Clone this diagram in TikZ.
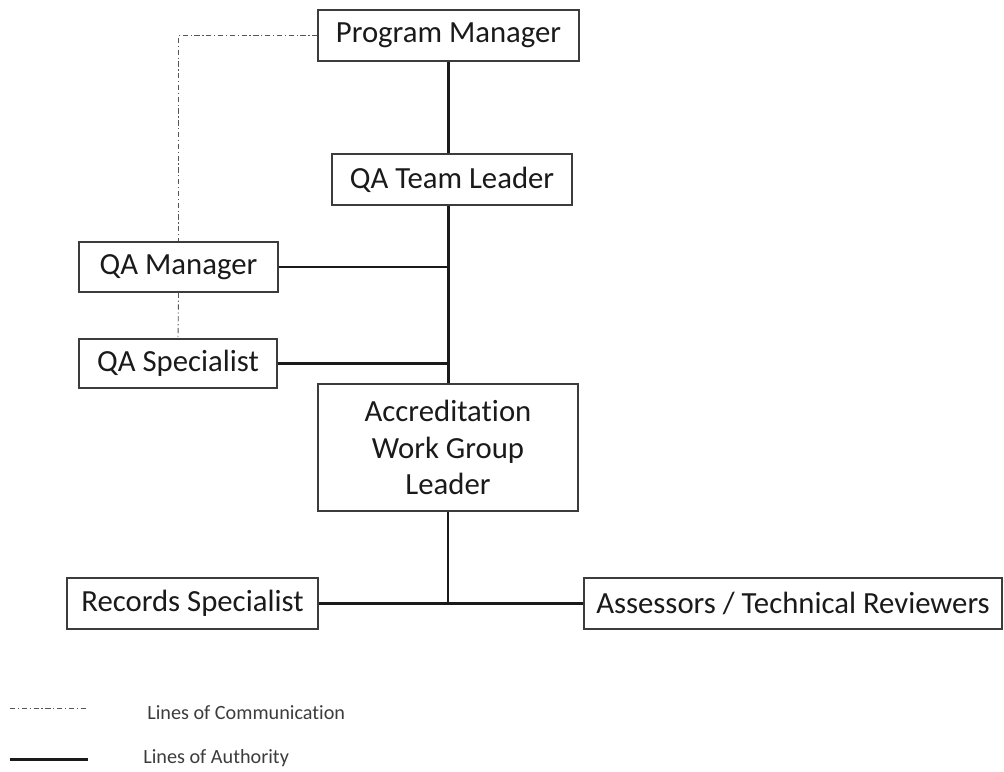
\documentclass[tikz,border=0pt]{standalone}
\usepackage{fontspec}
\setmainfont{Carlito}[Ligatures=NoCommon]
\usepackage{tikz}
\usetikzlibrary{calc,positioning}
\definecolor{ink}{HTML}{1A1A1A}
\definecolor{frame}{HTML}{3C3C3C}
\definecolor{liaisongray}{HTML}{555555}

\tikzset{
  role/.style={draw=frame,line width=0.7pt,text=ink,inner sep=0pt,align=center,font=\fontsize{17.5}{21}\selectfont},
  authority/.style={ink,line width=1.7pt},
  liaison/.style={liaisongray,line width=0.5pt,dash pattern=on 3pt off 1.5pt on 0.7pt off 1.5pt},
  legendtext/.style={text=ink!85,inner sep=0pt,anchor=west,font=\fontsize{11.5}{14}\selectfont}
}

\begin{document}
\begin{tikzpicture}[x=0.02cm,y=-0.02cm]
\useasboundingbox (0,0) rectangle (1004,771);
% boxes
\node[role,minimum width=5.22cm,minimum height=1.02cm] (pm) at (448.5,35.5) {Program Manager};
\node[role,minimum width=4.80cm,minimum height=1.02cm] (tl) at (452,179.5) {QA Team Leader};
\node[role,minimum width=3.98cm,minimum height=1.00cm] (qam) at (178.5,267) {QA Manager};
\node[role,minimum width=3.96cm,minimum height=0.98cm] (qas) at (178,363.5) {QA Specialist};
\node[role,minimum width=5.20cm,minimum height=2.54cm] (awg) at (448,447.5) {Accreditation\\Work Group\\Leader};
\node[role,minimum width=5.02cm,minimum height=1.02cm] (rs) at (192.5,603.5) {Records Specialist};
\node[role,minimum width=8.36cm,minimum height=1.02cm] (atr) at (793,603.5) {Assessors / Technical Reviewers};

% lines of authority
\draw[authority] (pm.south) -- (pm.south |- tl.north);
\draw[authority] (tl.south -| pm.south) -- (awg.north -| pm.south);
\draw[authority] (qam.east) -- (qam.east -| pm.south);
\draw[authority] (qas.east) -- (qas.east -| pm.south);
\coordinate (fork) at (awg.south |- rs.east);
\draw[authority] (awg.south) -- (fork);
\draw[authority] (rs.east) -- (atr.west);

% lines of communication
\draw[liaison] (pm.west) -| (qam.north);
\draw[liaison] (qam.south) -- (qas.north);

% legend
\coordinate (c0) at (10,708); \coordinate (c1) at (88,708);
\draw[liaison] (c0) -- (c1);
\node[legendtext] (lcomm) at (147,713) {Lines of Communication};
\coordinate (a0) at (10,759); \coordinate (a1) at (88,759);
\draw[authority] (a0) -- (a1);
\node[legendtext] (lauth) at (143,758) {Lines of Authority};
\end{tikzpicture}
\end{document}
